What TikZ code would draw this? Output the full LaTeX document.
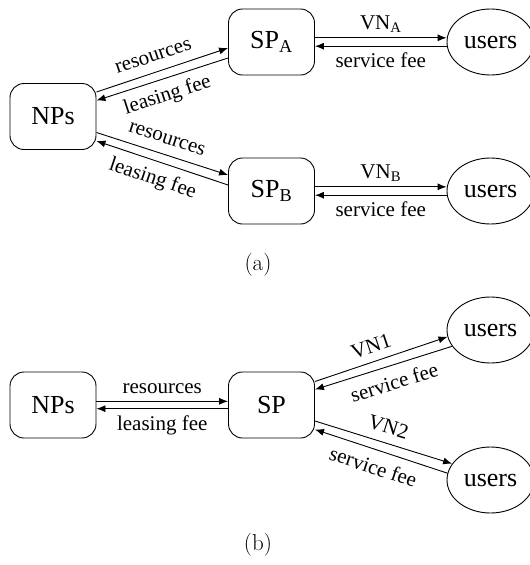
\documentclass[tikz,border=0pt]{standalone}
\usepackage{fontspec}
\newfontfamily\tnr{Liberation Serif}
\usetikzlibrary{arrows.meta,shapes.geometric}
\begin{document}
\begin{tikzpicture}[x=1pt,y=1pt,
  box/.style={draw, line width=0.9pt, rounded corners=14pt, minimum width=86pt, minimum height=66pt, inner sep=0pt, font=\tnr\fontsize{26}{30}\selectfont},
  usr/.style={draw, ellipse, line width=0.9pt, minimum width=87pt, minimum height=66pt, inner sep=0pt, font=\tnr\fontsize{26}{30}\selectfont},
  lbl/.style={font=\tnr\fontsize{21}{25}\selectfont, inner sep=6pt},
  conn/.style={line width=0.9pt, -{Latex[length=9pt,width=7pt]}},
  rconn/.style={line width=0.9pt, {Latex[length=9pt,width=7pt]}-},
  captxt/.style={font=\fontsize{23}{28}\selectfont, inner sep=0pt}
]
\useasboundingbox (0,0) rectangle (530,-565);
% (a)
\node[box] (NPsA) at (53,-116.5) {NPs};
\node[box] (SPA) at (271.5,-42) {SP\textsubscript{A}};
\node[box] (SPB) at (271.5,-191) {SP\textsubscript{B}};
\node[usr] (uA) at (490.5,-42) {users};
\node[usr] (uB) at (490.5,-191) {users};
\node[captxt] (capA) at (258,-265) {(a)};

\draw[conn] ([yshift=24.5pt]NPsA.east) -- node[lbl,sloped,above,inner sep=10pt,pos=0.47]{resources} ([yshift=-6pt]SPA.west);
\draw[rconn] ([yshift=16pt]NPsA.east) -- node[lbl,sloped,below,inner sep=7pt]{leasing fee} ([yshift=-16pt]SPA.west);
\draw[conn] ([yshift=-16pt]NPsA.east) -- node[lbl,sloped,above,inner sep=10pt]{resources} ([yshift=16pt]SPB.west);
\draw[rconn] ([yshift=-24.5pt]NPsA.east) -- node[lbl,sloped,below,inner sep=8pt,pos=0.47]{leasing fee} ([yshift=6pt]SPB.west);

\draw[conn] ([yshift=4.2pt]SPA.east) -- node[lbl,above,inner sep=5pt]{VN\textsubscript{A}} ([yshift=4.2pt]uA.west);
\draw[rconn] ([yshift=-4.2pt]SPA.east) -- node[lbl,below]{service fee} ([yshift=-4.2pt]uA.west);
\draw[conn] ([yshift=4.2pt]SPB.east) -- node[lbl,above,inner sep=5pt]{VN\textsubscript{B}} ([yshift=4.2pt]uB.west);
\draw[rconn] ([yshift=-4.2pt]SPB.east) -- node[lbl,below]{service fee} ([yshift=-4.2pt]uB.west);

% (b)
\node[box] (NPsB) at (53,-405) {NPs};
\node[box] (SP) at (271.5,-405) {SP};
\node[usr] (u1) at (490.5,-330) {users};
\node[usr] (u2) at (490.5,-480) {users};
\node[captxt] (capB) at (258,-545) {(b)};

\draw[conn] ([yshift=3.7pt]NPsB.east) -- node[lbl,above,inner sep=7pt]{resources} ([yshift=3.7pt]SP.west);
\draw[rconn] ([yshift=-3.7pt]NPsB.east) -- node[lbl,below,inner sep=7pt]{leasing fee} ([yshift=-3.7pt]SP.west);

\draw[conn] ([yshift=23.5pt]SP.east) -- node[lbl,sloped,above,inner sep=8pt,pos=0.46]{VN1} (u1.189);
\draw[rconn] ([yshift=15.5pt]SP.east) -- node[lbl,sloped,below,inner sep=9pt,pos=0.54]{service fee} (u1.203);
\draw[conn] ([yshift=-16pt]SP.east) -- node[lbl,sloped,above,inner sep=8.5pt]{VN2} (u2.157);
\draw[rconn] ([yshift=-24.5pt]SP.east) -- node[lbl,sloped,below,inner sep=9pt,pos=0.48]{service fee} (u2.171);
\end{tikzpicture}
\end{document}
